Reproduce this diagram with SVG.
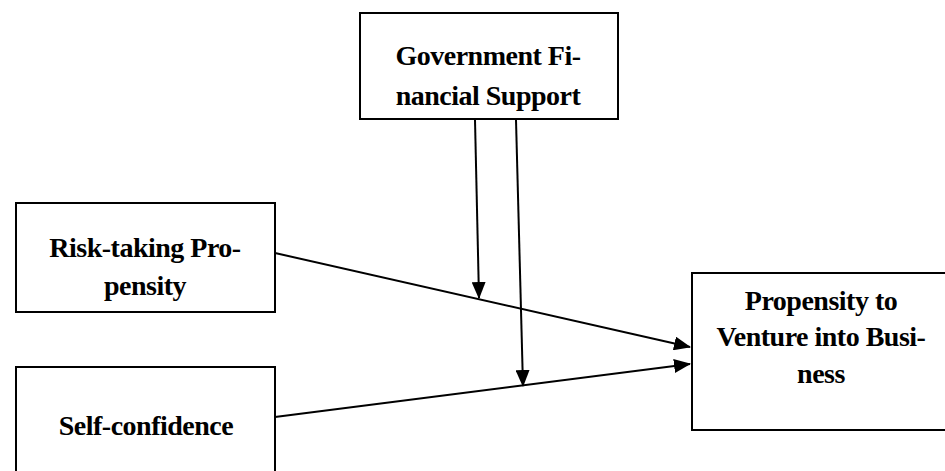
<svg xmlns="http://www.w3.org/2000/svg" width="945" height="471" viewBox="0 0 945 471">
<style>
.box{fill:#fff;stroke:#000;stroke-width:2}
.t{font-family:"Liberation Serif","Times New Roman",serif;font-weight:bold;font-size:28px;fill:#000;text-anchor:middle;letter-spacing:-0.5px}
.c{stroke:#000;stroke-width:2;fill:none;marker-end:url(#ah)}
</style>
<defs>
<marker id="ah" viewBox="0 0 17 14" refX="16" refY="7" markerWidth="17" markerHeight="14" markerUnits="userSpaceOnUse" orient="auto">
<path d="M0,0 L17,7 L0,14 Z" fill="#000"/>
</marker>
</defs>
<g id="gov">
<rect class="box" x="360" y="13" width="258" height="106"/>
<text class="t" x="488" y="65">Government Fi-</text>
<text class="t" x="488" y="105">nancial Support</text>
</g>
<g id="risk">
<rect class="box" x="16" y="203" width="259" height="109"/>
<text class="t" x="145" y="257">Risk-taking Pro-</text>
<text class="t" x="145" y="295">pensity</text>
</g>
<g id="self">
<rect class="box" x="16" y="367" width="259" height="120"/>
<text class="t" x="146" y="435">Self-confidence</text>
</g>
<g id="prop">
<rect class="box" x="692" y="273" width="270" height="157"/>
<text class="t" x="821" y="310">Propensity to</text>
<text class="t" x="821" y="346">Venture into Busi-</text>
<text class="t" x="821" y="383">ness</text>
</g>
<g id="connectors">
<line class="c" x1="275" y1="253" x2="690" y2="347"/>
<line class="c" x1="275" y1="417" x2="690" y2="364"/>
<line class="c" x1="475" y1="120" x2="479" y2="298"/>
<line class="c" x1="516" y1="120" x2="523" y2="386"/>
</g>
</svg>
